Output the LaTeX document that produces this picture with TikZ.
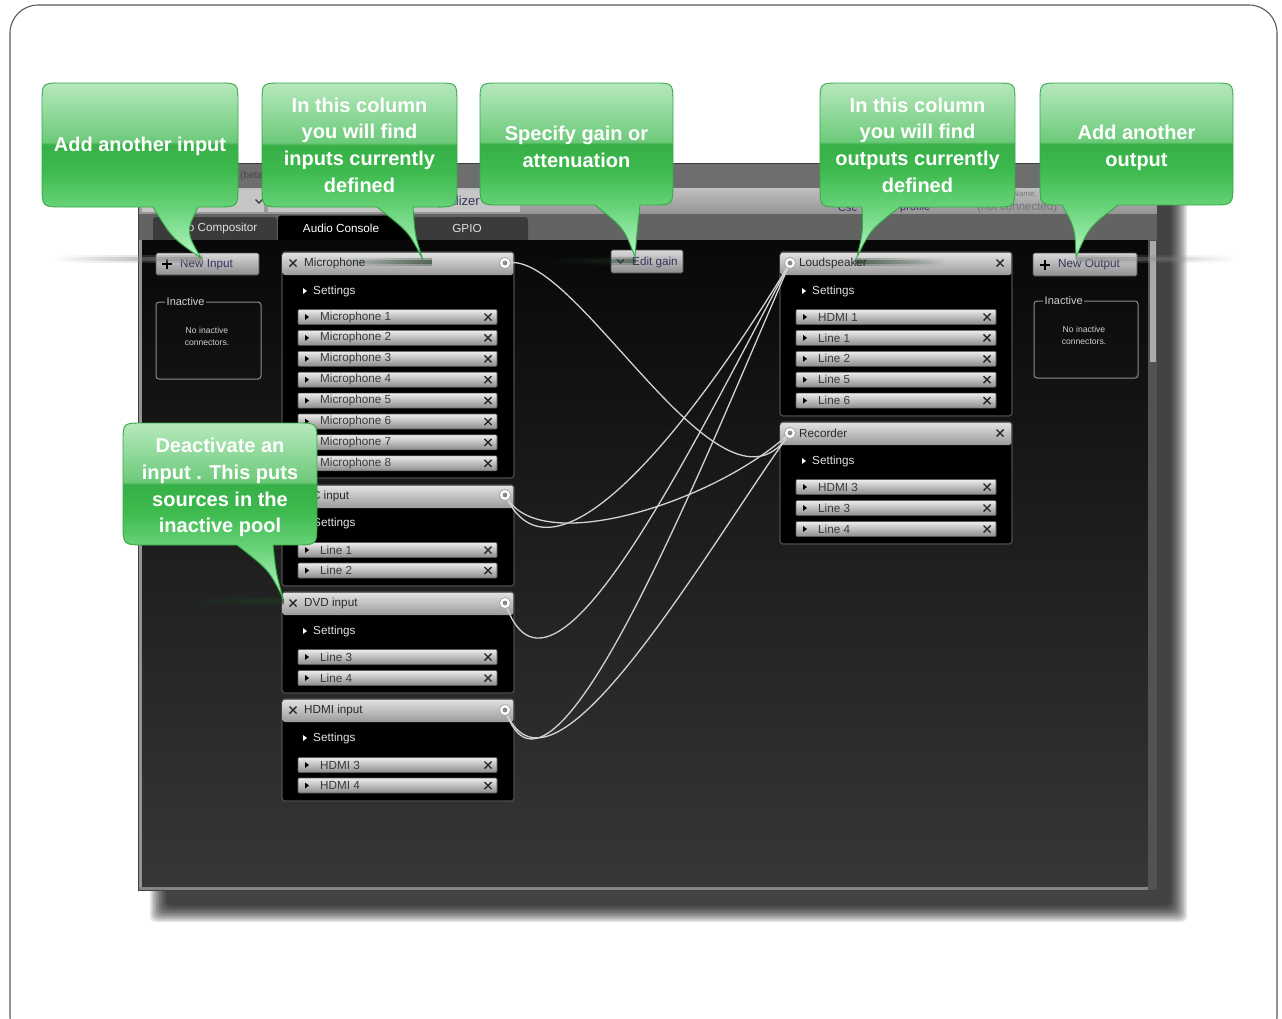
\documentclass[tikz,border=0pt]{standalone}
\usepackage{fontspec}
\setmainfont{Liberation Sans}
\usetikzlibrary{fadings}
\definecolor{gTop}{HTML}{A9E3B1}
\definecolor{gUp}{HTML}{6DCA7A}
\definecolor{gDark}{HTML}{36AF47}
\definecolor{gMid}{HTML}{3DBA4E}
\definecolor{gLow}{HTML}{6AD47B}
\definecolor{gTip}{HTML}{B4F7C4}
\definecolor{gEdge}{HTML}{35A845}
\definecolor{hdrTop}{HTML}{E2E2E2}
\definecolor{hdrBot}{HTML}{9A9A9A}
\definecolor{rowTop}{HTML}{EDEDED}
\definecolor{rowBot}{HTML}{8C8C8C}
\definecolor{rowEdge}{HTML}{5A5A5A}
\definecolor{rowTxt}{HTML}{3A3A3A}
\definecolor{hdrTxt}{HTML}{2A2A2A}
\definecolor{setTxt}{HTML}{E4E4E4}
\definecolor{btnTop}{HTML}{D9D9D9}
\definecolor{btnBot}{HTML}{8E8E8E}
\definecolor{btnEdge}{HTML}{4A4A4A}
\definecolor{navy}{HTML}{34345E}
\definecolor{pEdge}{HTML}{4C4C4C}
\definecolor{wireC}{HTML}{D2D2D2}
\definecolor{portEdge}{HTML}{9A9A9A}
\definecolor{portDot}{HTML}{8A8A8A}
\definecolor{titleC}{HTML}{6E6E6E}
\definecolor{fieldC}{HTML}{C6C6C6}
\definecolor{tabRow}{HTML}{636363}
\definecolor{tabGray}{HTML}{3B3B3B}
\definecolor{frameC}{HTML}{5A5A5A}
\definecolor{winTop}{HTML}{080808}
\definecolor{winBot}{HTML}{373737}
\definecolor{inBox}{HTML}{8C8C8C}
\definecolor{inTxt}{HTML}{D0D0D0}
\definecolor{streak}{HTML}{1E3A25}
\pgfdeclareverticalshading{gloss}{100bp}{color(0bp)=(gTip); color(25bp)=(gTip); color(39bp)=(gLow); color(50bp)=(gMid); color(57.4bp)=(gDark); color(58.2bp)=(gUp); color(72bp)=(gTop); color(75bp)=(gTop!85!white); color(100bp)=(gTop!85!white)}
% bubble: #1 x1, #2 y1, #3 x2, #4 y2, #5 tail, #6 name, #7 text, #8 text y offset
\newcommand\bubble[8]{%
  \shadedraw[shading=gloss, draw=gEdge, line width=0.9pt]
    (#1+20,#2) -- (#3-20,#2) .. controls (#3,#2) .. (#3,#2+20)
    -- (#3,#4-22) .. controls (#3,#4) .. (#3-22,#4)
    -- #5
    -- (#1+22,#4) .. controls (#1,#4) .. (#1,#4-22)
    -- (#1,#2+20) .. controls (#1,#2) .. (#1+20,#2) -- cycle;
  \node[bubtext] (#6) at ({(#1+#3)/2},{(#2+#4)/2+#8}) {#7};
}
% row item: #1 name, #2 x1, #3 x2, #4 y, #5 text
\newcommand\rowitem[5]{%
  \shadedraw[top color=rowTop, bottom color=rowBot, draw=rowEdge, rounded corners=1pt, line width=0.6pt] (#2,#4-7.5) rectangle (#3,#4+7.5);
  \fill[black] (#2+7,#4-3) -- (#2+11,#4) -- (#2+7,#4+3) -- cycle;
  \node[rowtext] (#1) at (#2+22,#4) {#5};
  \draw[xmk] (#3-12.5,#4-3.5) -- (#3-5.5,#4+3.5) (#3-12.5,#4+3.5) -- (#3-5.5,#4-3.5);
}
% panel: #1 x1, #2 x2, #3 ytop, #4 ybot
\newcommand\panel[4]{%
  \draw[fill=black, draw=pEdge, line width=1.2pt, rounded corners=3pt] (#1,#3) rectangle (#2,#4);
  \shade[top color=hdrTop, bottom color=hdrBot, rounded corners=2.5pt] (#1+0.6,#3+0.6) rectangle (#2-0.6,#3+23);
}
% settings: #1 name, #2 x, #3 y
\newcommand\settingsline[3]{%
  \fill[white] (#2,#3-3) -- (#2+4,#3) -- (#2,#3+3) -- cycle;
  \node[settext] (#1) at (#2+10,#3) {Settings};
}
\newcommand\xcross[2]{\draw[xmk] (#1-3.5,#2-3.5) -- (#1+3.5,#2+3.5) (#1-3.5,#2+3.5) -- (#1+3.5,#2-3.5);}
% soft streak: #1 colour, #2 opacity, #3 fading, #4 x1, #5 x2, #6 y
\newcommand\streakline[6]{%
  \fill[#1, fill opacity=#2*0.45, path fading=#3] (#4,#6-4) rectangle (#5,#6+4);
  \fill[#1, fill opacity=#2*0.7, path fading=#3] (#4,#6-2) rectangle (#5,#6+2);
}
\begin{document}
\begin{tikzpicture}[x=1pt,y=-1pt,
  bubtext/.style={text=white, font=\fontsize{20}{26.7}\selectfont\bfseries, align=center, inner sep=0pt},
  ui/.style={font=\fontsize{11.7}{13}\selectfont, inner sep=0pt, anchor=west},
  rowtext/.style={ui, text=rowTxt},
  hdrtext/.style={ui, text=hdrTxt},
  settext/.style={ui, text=setTxt},
  xmk/.style={line width=1.4pt, draw=black!85},
  wire/.style={draw=wireC, line width=1.3pt},
  port/.style={circle, fill=white, draw=portEdge, line width=0.6pt, minimum size=11pt, inner sep=0pt,
    path picture={\fill[portDot] (path picture bounding box.center) circle[radius=2.4pt];}},
  btn/.style={top color=btnTop, bottom color=btnBot, draw=btnEdge, rounded corners=1.5pt, line width=0.6pt},
  inact/.style={draw=inBox, rounded corners=3pt, line width=1pt},
  inlabel/.style={ui, fill=black!95, text=inTxt, inner xsep=1.5pt, font=\fontsize{11}{12}\selectfont},
  intext/.style={text=inTxt, font=\fontsize{8.6}{12}\selectfont, align=center, inner sep=0pt},
]
\useasboundingbox (0,0) rectangle (1282,1018);
\fill[white] (0,0) rectangle (1282,1018);
% outer frame
\draw[frameC, line width=1.1pt, rounded corners=28pt] (10,5) rectangle (1277,1045);

% window shadow
\foreach \k in {0,...,11}
  \fill[black, opacity=0.1, rounded corners=6pt] (150+1.5*\k,180+1.5*\k) rectangle (1187-1.5*\k,922-1.5*\k);

% window rows
\fill[titleC] (138,163) rectangle (1157,188);
\shade[top color=black!25, bottom color=black!42] (138,188) rectangle (1157,214);
\fill[fieldC] (142,190) rectangle (264,212);
\fill[fieldC] (268,190) rectangle (520,212);
\draw[line width=1.1pt, black!80] (255.5,199.5) -- (259,203) -- (262.5,199.5);
\node[ui, anchor=east, text=navy, font=\fontsize{13}{14}\selectfont] (eqz) at (480,202) {Equalizer};
\node[ui, text=black!72, font=\fontsize{10}{11}\selectfont] (beta) at (240,176) {(beta)};
\node[ui, text=navy, font=\fontsize{11}{12}\selectfont] (csc) at (838,207.5) {Csc};
\node[ui, text=navy, font=\fontsize{11}{12}\selectfont] (prof) at (900,207.5) {profile};
\node[ui, text=black!55, font=\fontsize{8}{9}\selectfont] (nm) at (1013,193.5) {Name:};
\node[ui, text=black!55, font=\fontsize{11.5}{12}\selectfont] (nc) at (977,207.5) {(not connected)};
\fill[tabRow] (138,214) rectangle (1157,240);
\fill[tabGray, rounded corners=3pt] (153,217) rectangle (277,246);
\fill[black, rounded corners=3pt] (278,215.5) rectangle (412,246);
\fill[tabGray, rounded corners=3pt] (413,217) rectangle (528,246);
% main area
\shade[top color=winTop, bottom color=winBot] (138,240) rectangle (1157,890);
\node[ui, anchor=center, text=black!12] (tvc) at (211,228) {Video Compositor};
\node[ui, anchor=center, text=white] (tac) at (341,228) {Audio Console};
\node[ui, anchor=center, text=black!12] (tgp) at (467,228) {GPIO};
% borders / scrollbar
\fill[black!42] (138,240) rectangle (141.5,890);
\fill[black!48] (138,886.5) rectangle (1157,890);
\fill[black!68] (1148,240) rectangle (1157,890);
\fill[black!33] (1150,241) rectangle (1156,362);
\draw[black!75, line width=0.8pt] (138,163) rectangle (1157,890);

% left column controls
\shadedraw[btn] (156,253) rectangle (259,275);
\draw[line width=1.5pt] (162,264) -- (172,264) (167,259) -- (167,269);
\node[ui, text=navy] (newin) at (180,264.5) {New Input};
\draw[inact] (156,302) rectangle (261,379);
\node[inlabel] (inlL) at (165,301.5) {Inactive};
\node[intext] (intL) at (207,336) {No inactive\\connectors.};

% edit gain
\shadedraw[btn] (611,250) rectangle (683,273);
\draw[line width=1.1pt, navy] (617,259.5) -- (620.5,263) -- (624,259.5);
\node[ui, text=navy] (egain) at (632,262) {Edit gain};

% right column controls
\shadedraw[btn] (1033,253) rectangle (1137,276);
\draw[line width=1.5pt] (1040,265) -- (1050,265) (1045,260) -- (1045,270);
\node[ui, text=navy] (newout) at (1058,265) {New Output};
\draw[inact] (1034,301) rectangle (1138,378);
\node[inlabel] (inlR) at (1043,300.5) {Inactive};
\node[intext] (intR) at (1084,335) {No inactive\\connectors.};

% ---------- input panels ----------
\panel{282}{514}{252}{478}
\xcross{293}{263}
\node[hdrtext] (hMic) at (304,263) {Microphone};
\settingsline{sMic}{303}{291}
\foreach \t [count=\i from 0] in {Microphone 1,Microphone 2,Microphone 3,Microphone 4,Microphone 5,Microphone 6,Microphone 7,Microphone 8}
  {\pgfmathsetmacro\yy{317+20.9*\i}\rowitem{mic\i}{298}{497}{\yy}{\t}}

\panel{282}{514}{485}{586}
\xcross{293}{496}
\node[hdrtext] (hPC) at (304,496) {PC input};
\settingsline{sPC}{303}{523}
\rowitem{pc1}{298}{497}{550}{Line 1}
\rowitem{pc2}{298}{497}{570.5}{Line 2}

\panel{282}{514}{592}{693}
\xcross{293}{603}
\node[hdrtext] (hDVD) at (304,603) {DVD input};
\settingsline{sDVD}{303}{631}
\rowitem{dvd1}{298}{497}{657}{Line 3}
\rowitem{dvd2}{298}{497}{678}{Line 4}

\panel{282}{514}{699}{801}
\xcross{293}{710}
\node[hdrtext] (hHDMI) at (304,710) {HDMI input};
\settingsline{sHDMI}{303}{738}
\rowitem{hd1}{298}{497}{765}{HDMI 3}
\rowitem{hd2}{298}{497}{785.5}{HDMI 4}

% ---------- output panels ----------
\panel{780}{1012}{252}{416}
\xcross{1000}{263}
\node[hdrtext] (hLS) at (799,263) {Loudspeaker};
\settingsline{sLS}{802}{291}
\foreach \t [count=\i from 0] in {HDMI 1,Line 1,Line 2,Line 5,Line 6}
  {\pgfmathsetmacro\yy{317+20.9*\i}\rowitem{ls\i}{796}{996}{\yy}{\t}}

\panel{780}{1012}{422}{544}
\xcross{1000}{433}
\node[hdrtext] (hRec) at (799,433) {Recorder};
\settingsline{sRec}{802}{461}
\rowitem{rec1}{796}{996}{487}{HDMI 3}
\rowitem{rec2}{796}{996}{508}{Line 3}
\rowitem{rec3}{796}{996}{529}{Line 4}

% ---------- ports ----------
\node[port] (pMic) at (505,263) {};
\node[port] (pPC) at (505,495) {};
\node[port] (pDVD) at (505,603) {};
\node[port] (pHDMI) at (505,710) {};
\node[port] (pLS) at (790,263) {};
\node[port] (pRec) at (790,433) {};

% ---------- wires ----------
\draw[wire] (pMic) .. controls +(75,-5) and +(-70,97) .. (pRec);
\draw[wire] (pPC) .. controls +(50,95) and +(-110,180) .. (pLS);
\draw[wire] (pPC) .. controls +(40,60) and +(-80,70) .. (pRec);
\draw[wire] (pDVD) .. controls +(50,127) and +(-100,187) .. (pLS);
\draw[wire] (pHDMI) .. controls +(50,125) and +(-90,207) .. (pLS);
\draw[wire] (pHDMI) .. controls +(50,105) and +(-90,127) .. (pRec);

% ---------- tail shadows ----------
\streakline{black!45}{0.9}{west}{55}{203}{258.5}
\streakline{streak}{0.75}{west}{340}{432}{262}
\streakline{streak}{0.6}{west}{545}{636}{261}
\streakline{streak}{0.75}{east}{855}{945}{262}
\streakline{black!45}{0.8}{east}{1076}{1235}{259}
\streakline{streak}{0.8}{west}{175}{284}{600.5}

% ---------- callouts ----------
\bubble{42}{83}{238}{207}{(198,207) .. controls (186,232) .. (201,258) .. controls (172,238) .. (153,207)}{c1}{Add another input}{1.5}
\bubble{262}{83}{457}{207}{(413,207) .. controls (415,236) .. (423,260) .. controls (409,232) .. (377,207)}{c2}{In this column\\you will find\\inputs currently\\defined}{0}
\bubble{480}{83}{673}{205}{(640,205) .. controls (637,232) .. (635,257) .. controls (624,228) .. (595,205)}{c3}{Specify gain or\\attenuation}{2.5}
\bubble{820}{83}{1015}{207}{(900,207) .. controls (871,229) .. (857,257) .. controls (863,232) .. (862,207)}{c4}{In this column\\you will find\\outputs currently\\defined}{0}
\bubble{1040}{83}{1233}{205}{(1118,205) .. controls (1089,227) .. (1076,257) .. controls (1075,228) .. (1062,205)}{c5}{Add another\\output}{3.5}
\bubble{123}{423}{317}{545}{(273,545) .. controls (276,573) .. (283,598) .. controls (269,570) .. (237,545)}{c6}{Deactivate an\\input . This puts\\sources in the\\inactive pool}{3.5}
\end{tikzpicture}
\end{document}
